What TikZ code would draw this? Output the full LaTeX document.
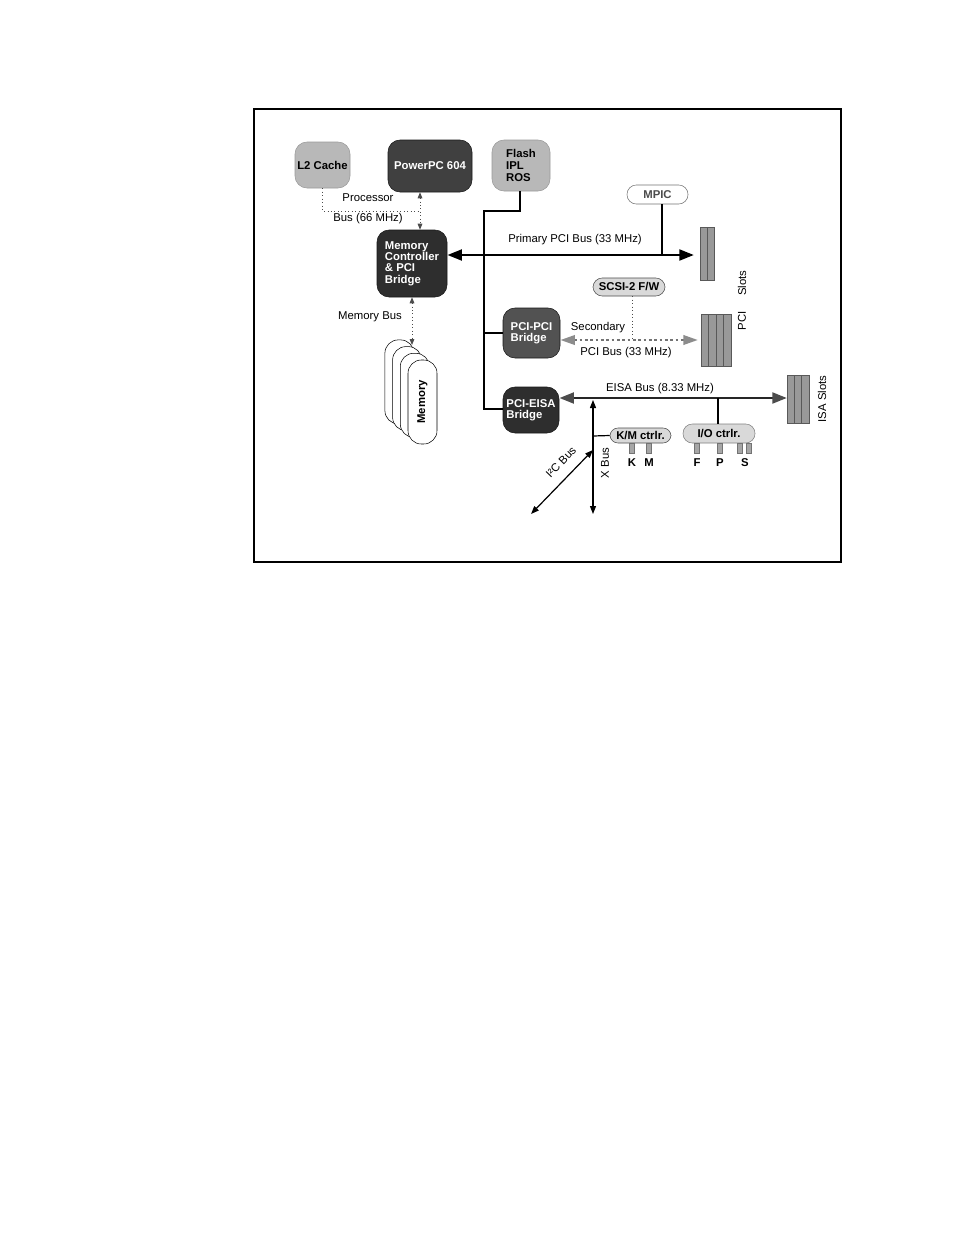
\documentclass[tikz,border=0pt]{standalone}
\usepackage{fontspec}
\setmainfont{Liberation Sans}
\usetikzlibrary{arrows.meta,calc}
\begin{document}
\begin{tikzpicture}[x=0.75pt,y=-0.75pt,
  font=\fontsize{8.5}{9}\selectfont,
  lightbox/.style={rounded corners=9pt, fill=black!28, draw=black!40, font=\fontsize{8.5}{9}\selectfont\bfseries, align=left, inner sep=0pt},
  darkbox/.style={rounded corners=9pt, fill=black!82, draw=black!90, text=white, font=\fontsize{8.5}{8.6}\selectfont\bfseries, align=left, inner sep=0pt},
  midbox/.style={darkbox, fill=black!68},
  pill/.style={rounded corners=7pt, fill=black!15, draw=black!70, font=\fontsize{8.5}{9}\selectfont\bfseries, inner sep=0pt},
  lbl/.style={inner sep=0pt},
  blbl/.style={inner sep=0pt, font=\fontsize{8.5}{9}\selectfont\bfseries},
  membox/.style={rounded corners=10pt, fill=white, draw=black, thin},
  slotcol/.style={fill=black!40, draw=black!65, line width=0.4pt},
  stub/.style={fill=black!35, draw=black!55, line width=0.3pt},
  thickbus2/.style={line width=2.2pt, {Triangle[length=11pt,width=8pt]}-{Triangle[length=11pt,width=8pt]}},
  wire/.style={line width=1.8pt},
  dotbus/.style={dotted, line width=0.6pt, black!70, {Triangle[length=4.5pt,width=3.5pt]}-{Triangle[length=4.5pt,width=3.5pt]}},
  thin1/.style={line width=0.9pt},
]
\useasboundingbox (0,0) rectangle (954,1235);
\fill[white] (0,0) rectangle (954,1235);
\draw[line width=1pt] (254,109) rectangle (841,562);

% boxes
\node[lightbox, minimum width=41.25pt, minimum height=34.5pt] (l2) at (322.5,165) {L2 Cache};
\node[darkbox, fill=black!75, minimum width=63pt, minimum height=39pt] (ppc) at (430,166) {PowerPC 604};
\node[lightbox, minimum width=43.5pt, minimum height=38.25pt, font=\fontsize{8.5}{9.2}\selectfont\bfseries] (flash) at (521,165.5) {Flash\\IPL\\ROS};
\node[darkbox, minimum width=52.5pt, minimum height=50.25pt] (mc) at (412,263.5) {Memory\\Controller\\\& PCI\\Bridge};
\node[midbox, minimum width=42.75pt, minimum height=37.5pt] (ppb) at (531.5,333) {PCI-PCI\\Bridge};
\node[darkbox, minimum width=42pt, minimum height=34.5pt] (peb) at (531,410) {PCI-EISA\\Bridge};
\node[pill, fill=white, draw=black!55, text=black!70, minimum width=45.75pt, minimum height=14.25pt] (mpic) at (657.5,194.5) {MPIC};
\node[pill, minimum width=54pt, minimum height=13.5pt] (scsi) at (629,287) {SCSI-2 F/W};
\node[pill, minimum width=45.75pt, minimum height=11.25pt, rounded corners=6pt] (km) at (640.5,435.5) {K/M ctrlr.};
\node[pill, draw=black!50, minimum width=54pt, minimum height=14.25pt] (io) at (719,433.5) {I/O ctrlr.};

% memory stack
\foreach \i in {3,2,1,0} {
  \draw[membox] ($(408,360)+(-7.7*\i,-6.7*\i)$) rectangle ($(437,444)+(-7.7*\i,-6.7*\i)$);
}
\node[inner sep=0pt, minimum width=21.75pt, minimum height=63pt] (mem) at (422.5,402) {};
\node[blbl, rotate=90] (memtxt) at (mem.center) {Memory};

% slots
\node[inner sep=0pt, minimum width=10.5pt, minimum height=39.75pt] (ps1) at (707,253.5) {};
\foreach \c in {0,1} { \draw[slotcol] (700+7*\c,227) rectangle (707+7*\c,280); }
\node[inner sep=0pt, minimum width=22.5pt, minimum height=39pt] (ps2) at (716,340) {};
\foreach \c in {0,1,2,3} { \draw[slotcol] (701+7.5*\c,314) rectangle (708.5+7.5*\c,366); }
\node[inner sep=0pt, minimum width=16.5pt, minimum height=36pt] (isa) at (798,399) {};
\foreach \c in {0,1,2} { \draw[slotcol] (787+7.33*\c,375) rectangle (794.33+7.33*\c,423); }

\node[lbl, rotate=90] (tslots) at (742,283) {Slots};
\node[lbl, rotate=90] (tpci) at (742,321) {PCI};
\node[lbl, rotate=90] (tisa) at (822,399) {ISA Slots};

% processor bus
\draw[dotted, line width=0.6pt, black!70] (l2.south) -- (l2.south |- 0,211) coordinate (pb1) -- (420,211) coordinate (pb2);
\draw[dotbus] ([xshift=-7.5pt]ppc.south) -- ([xshift=6pt]mc.north);
\node[lbl] (tproc) at (368,198) {Processor};
\node[lbl] (tpbus) at (368,219) {Bus (66 MHz)};

% memory bus
\coordinate (memtop) at (412,345);
\draw[dotbus] (mc.south) -- (memtop);
\node[lbl] (tmbus) at (370,317) {Memory Bus};

% flash and bridge wiring
\coordinate (fl1) at (520,211);
\coordinate (fl2) at (484,211);
\coordinate (fl3) at (484,409);
\draw[wire] (flash.south -| fl1) -- (fl1) -- (fl2) -- (fl3) -- (fl3 -| peb.west);
\draw[wire] (484,333) coordinate (fl4) -- (ppb.west);

% primary PCI bus
\coordinate (pcir) at (694,255);
\draw[thickbus2] (mc.east |- pcir) -- (pcir);
\draw[wire] (mpic.south -| 662,0) -- (662,255);
\node[lbl] (tpri) at (575,240) {Primary PCI Bus (33 MHz)};

% secondary PCI bus
\coordinate (secr) at (698,340);
\draw[dotted, line width=0.6pt, black!70] (scsi.south -| 632,0) -- (632,340);
\draw[dotted, line width=2pt, black!55, {Triangle[length=11pt,width=7pt,black!45]}-{Triangle[length=11pt,width=7pt,black!45]}] (ppb.east |- secr) -- (secr);
\node[lbl] (tsec) at (598,328) {Secondary};
\node[lbl] (tsec2) at (626,353) {PCI Bus (33 MHz)};

% EISA bus
\coordinate (eisar) at (787,398);
\draw[line width=2.2pt, black!85, {Triangle[length=11pt,width=8pt,black!70]}-{Triangle[length=11pt,width=8pt,black!70]}] (peb.east |- eisar) -- (eisar);
\node[lbl] (teisa) at (660,389) {EISA Bus (8.33 MHz)};
\draw[thin1] (io.north -| 718,0) -- (718,398);

% X bus, I2C
\coordinate (xtop) at (593,400);
\coordinate (xbot) at (593,514);
\coordinate (i2a) at (593,450);
\coordinate (i2b) at (531,514);
\draw[thin1, {Triangle[length=6pt,width=4.5pt]}-{Triangle[length=6pt,width=4.5pt]}] (xtop) -- (xbot);
\draw[thin1] (593,436) -- (km.west);
\draw[thin1, {Triangle[length=6pt,width=4.5pt]}-{Triangle[length=6pt,width=4.5pt]}] (i2a) -- (i2b);
\node[lbl, rotate=90] (txbus) at (605,463) {X Bus};
\node[lbl, rotate=46] (ti2c) at (561,462) {I²C Bus};

% stubs
\foreach \x in {632,649,697,720,740,749} { \draw[stub] (\x-2.5,443) rectangle (\x+2.5,453); }
\node[blbl] (tk) at (632,463) {K};
\node[blbl] (tm) at (649,463) {M};
\node[blbl] (tf) at (697,463) {F};
\node[blbl] (tp) at (720,463) {P};
\node[blbl] (ts) at (745,463) {S};
\end{tikzpicture}
\end{document}
